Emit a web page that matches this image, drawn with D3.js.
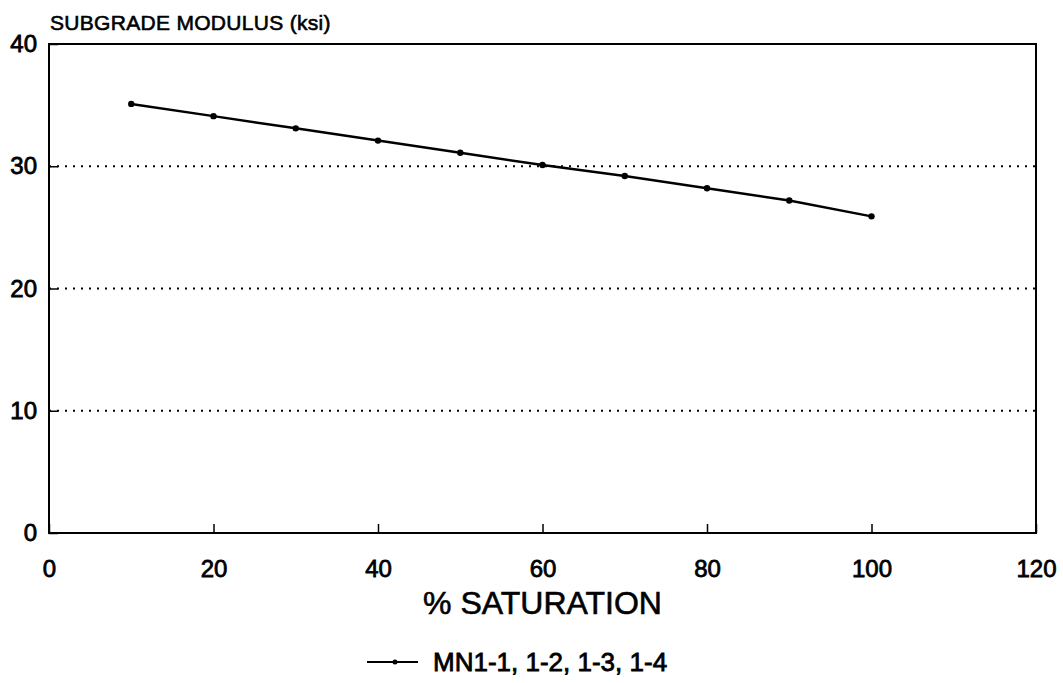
<!DOCTYPE html>
<html>
<head>
<meta charset="utf-8">
<script src="https://cdn.jsdelivr.net/npm/d3@7"></script>
<style>
  html, body { margin: 0; padding: 0; background: #fff; }
  text { font-family: "Liberation Sans", Arial, Helvetica, sans-serif; fill: #000; }
</style>
</head>
<body>
<svg id="chart" width="1063" height="683"></svg>
<script>
// Subgrade modulus versus degree of saturation
const saturation = [10, 20, 30, 40, 50, 60, 70, 80, 90, 100];
const modulus = [35.1, 34.1, 33.1, 32.1, 31.1, 30.1, 29.2, 28.2, 27.2, 25.9];
const xTicks = [0, 20, 40, 60, 80, 100, 120];
const yTicks = [0, 10, 20, 30, 40];
const gridValues = [10, 20, 30];
const seriesName = "MN1-1, 1-2, 1-3, 1-4";
const yTitle = "SUBGRADE MODULUS (ksi)";
const xTitle = "% SATURATION";

const svg = d3.select("#chart");
const plotLeft = 49, plotRight = 1036, plotTop = 44, plotBottom = 533;

const x = d3.scaleLinear().domain([0, 120]).range([plotLeft, plotRight]);
const y = d3.scaleLinear().domain([0, 40]).range([plotBottom, plotTop]);

// dotted horizontal grid
svg.append("g").selectAll("line").data(gridValues).join("line")
  .attr("x1", plotLeft).attr("x2", plotRight)
  .attr("y1", d => y(d)).attr("y2", d => y(d))
  .attr("stroke", "#000").attr("stroke-width", 1.8)
  .attr("stroke-dasharray", "2,6");

// axes with inward ticks
const xAxis = svg.append("g").attr("transform", `translate(0,${plotBottom})`)
  .call(d3.axisBottom(x).tickValues(xTicks).tickSizeInner(-9).tickSizeOuter(0).tickPadding(27));
const yAxis = svg.append("g").attr("transform", `translate(${plotLeft},0)`)
  .call(d3.axisLeft(y).tickValues(yTicks).tickSizeInner(-9).tickSizeOuter(0).tickPadding(12));

[xAxis, yAxis].forEach(a => {
  a.select(".domain").remove();
  a.selectAll("line").attr("stroke", "#000").attr("stroke-width", 1.5);
  a.selectAll("text").attr("font-size", 24).attr("font-family", "Liberation Sans, Arial, sans-serif")
    .attr("fill", "#000").attr("stroke", "#000").attr("stroke-width", 0.8);
});
xAxis.selectAll("text").attr("dy", "0.71em");

// plot frame
svg.append("rect")
  .attr("x", plotLeft).attr("y", plotTop)
  .attr("width", plotRight - plotLeft).attr("height", plotBottom - plotTop)
  .attr("fill", "none").attr("stroke", "#000").attr("stroke-width", 2);

// series line and markers
const pts = saturation.map((s, i) => [s, modulus[i]]);
svg.append("path").datum(pts)
  .attr("fill", "none").attr("stroke", "#000").attr("stroke-width", 2.5)
  .attr("d", d3.line().x(d => x(d[0])).y(d => y(d[1])));
svg.append("g").selectAll("circle").data(pts).join("circle")
  .attr("cx", d => x(d[0])).attr("cy", d => y(d[1])).attr("r", 3.2)
  .attr("fill", "#000");

// titles
svg.append("text").attr("x", 50).attr("y", 30)
  .attr("font-size", 21).attr("stroke", "#000").attr("stroke-width", 0.6)
  .attr("letter-spacing", 0.3)
  .text(yTitle);
svg.append("text").attr("x", (plotLeft + plotRight) / 2).attr("y", 614)
  .attr("text-anchor", "middle").attr("font-size", 32)
  .attr("stroke", "#000").attr("stroke-width", 0.6)
  .text(xTitle);

// legend
const lg = svg.append("g").attr("transform", "translate(367,662)");
lg.append("line").attr("x1", 0).attr("x2", 51).attr("y1", 0).attr("y2", 0)
  .attr("stroke", "#000").attr("stroke-width", 2.2);
lg.append("circle").attr("cx", 28).attr("cy", 0).attr("r", 2.5).attr("fill", "#000");
lg.append("text").attr("x", 66).attr("y", 0).attr("dy", "0.36em")
  .attr("font-size", 26).attr("stroke", "#000").attr("stroke-width", 0.8)
  .text(seriesName);
</script>
</body>
</html>
